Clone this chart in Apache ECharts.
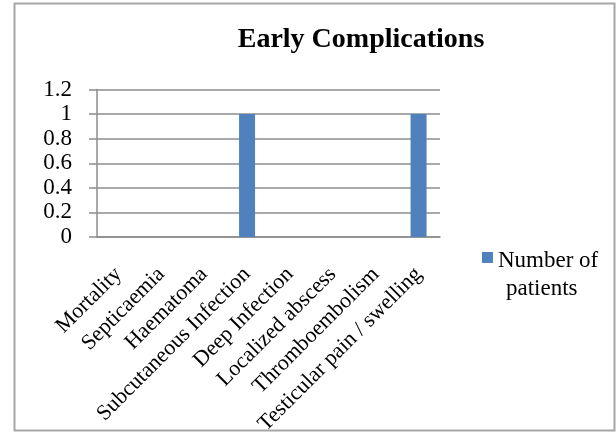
<!DOCTYPE html>
<html>
<head>
<meta charset="utf-8">
<script src="https://cdn.jsdelivr.net/npm/echarts@6/dist/echarts.min.js"></script>
<style>html,body{margin:0;padding:0;background:#fff}#c{width:616px;height:432px}</style>
</head>
<body>
<div id="c"></div>
<script>
const titleText = 'Early Complications';
const categories = ['Mortality', 'Septicaemia', 'Haematoma', 'Subcutaneous Infection', 'Deep Infection', 'Localized abscess', 'Thromboembolism', 'Testicular pain / swelling'];
const seriesName = 'Number of patients';
const values = [0, 0, 0, 1, 0, 0, 0, 1];
const yTicks = [0, 0.2, 0.4, 0.6, 0.8, 1, 1.2];

const serif = '"Liberation Serif", "DejaVu Serif", serif';
const chart = echarts.init(document.getElementById('c'), null, {renderer: 'canvas'});
chart.setOption({
  animation: false,
  backgroundColor: '#fff',
  title: {
    text: titleText,
    left: 356, top: 21, textAlign: 'center',
    textStyle: {fontFamily: serif, fontWeight: 'bold', fontSize: 28, color: '#000'}
  },
  legend: {
    data: [seriesName],
    left: 477, top: 242,
    icon: 'path://M0,0L1,0L1,1L0,1Z M0,4.2',
    itemWidth: 11, itemHeight: 46,
    formatter: () => '{a|Number of}\n{b|patients}',
    textStyle: {
      fontFamily: serif, fontSize: 23, color: '#000', lineHeight: 28,
      rich: {
        a: {fontFamily: serif, fontSize: 23, color: '#000', lineHeight: 28},
        b: {fontFamily: serif, fontSize: 23, color: '#000', lineHeight: 28, padding: [0, 0, 0, 8]}
      }
    }
  },
  grid: {left: 97, right: 176, top: 89.5, bottom: 195, containLabel: false, outerBoundsMode: 'none'},
  xAxis: {
    type: 'category',
    data: categories,
    axisLine: {lineStyle: {color: '#8c8c8c', width: 1.5}},
    axisTick: {length: 6, lineStyle: {color: '#8c8c8c', width: 1.5}},
    axisLabel: {rotate: 45, interval: 0, margin: 34, fontFamily: serif, fontSize: 22, color: '#000'}
  },
  yAxis: {
    type: 'value',
    min: 0, max: yTicks[yTicks.length - 1], interval: 0.2,
    axisLine: {show: true, lineStyle: {color: '#8c8c8c', width: 1.5}},
    axisTick: {show: true, length: 8, lineStyle: {color: '#8c8c8c', width: 1.5}},
    splitLine: {lineStyle: {color: '#8c8c8c', width: 1.5}},
    axisLabel: {margin: 25, fontFamily: serif, fontSize: 23, color: '#000',
      formatter: v => String(Math.round(v * 10) / 10)}
  },
  series: [{
    name: seriesName,
    type: 'bar',
    data: values,
    barWidth: 16,
    itemStyle: {color: '#4f81bd'}
  }],
  graphic: [{
    type: 'rect', silent: true, z: 100,
    shape: {x: 14.5, y: 3.5, width: 600, height: 427},
    style: {fill: 'none', stroke: '#a6a6a6', lineWidth: 2}
  }]
});
</script>
</body>
</html>
